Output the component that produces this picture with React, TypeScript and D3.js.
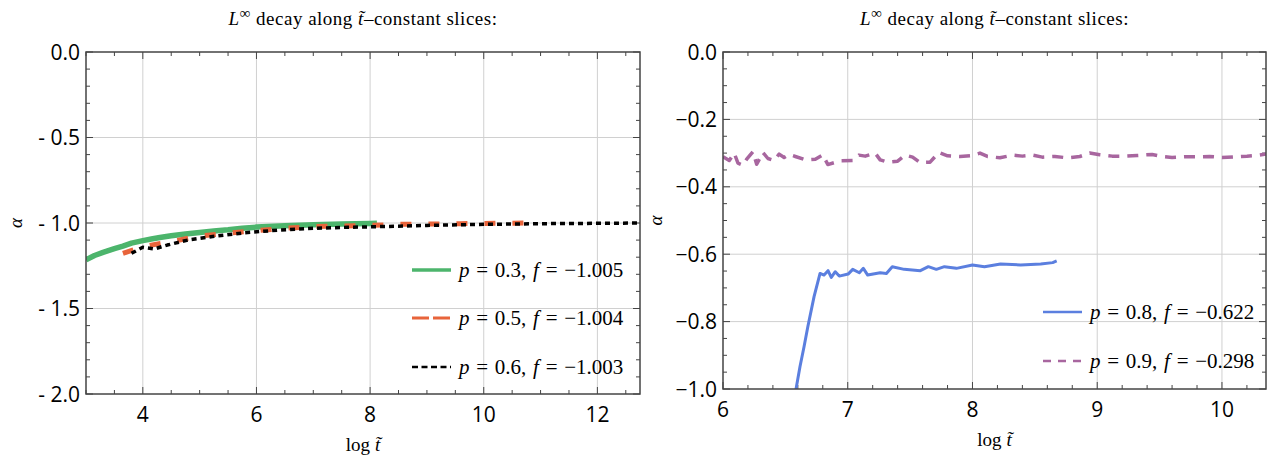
import React, { useEffect, useRef } from 'react';
import * as d3 from 'd3';

// left panel series (log t, alpha)
const greenX = [3.0, 3.15, 3.3, 3.5, 3.65, 3.8, 4.0, 4.15, 4.3, 4.5, 4.75, 5.0, 5.25, 5.5, 5.75, 6.0, 6.5, 7.0, 7.5, 8.0, 8.12];
const greenY = [-1.215, -1.19, -1.172, -1.15, -1.135, -1.118, -1.103, -1.094, -1.085, -1.075, -1.064, -1.055, -1.047, -1.04, -1.031, -1.024, -1.016, -1.01, -1.006, -1.003, -1.002];

const orangeX = [3.65, 4.0, 4.5, 5.0, 5.5, 6.0, 6.5, 7.0, 7.5, 8.0, 8.5, 9.0, 9.6, 10.2, 10.7];
const orangeY = [-1.177, -1.138, -1.109, -1.076, -1.06, -1.045, -1.031, -1.021, -1.018, -1.014, -1.008, -1.006, -1.004, -1.002, -1.0];

const blackX = [3.8, 4.0, 4.2, 4.43, 4.8, 5.2, 5.8, 6.4, 7.0, 7.6, 8.2, 9.0, 10.0, 11.0, 12.0, 12.75];
const blackY = [-1.177, -1.142, -1.152, -1.129, -1.099, -1.08, -1.057, -1.041, -1.031, -1.025, -1.021, -1.014, -1.008, -1.004, -1.002, -1.0];

// right panel series
const blueX = [6.553, 6.585, 6.617, 6.65, 6.68, 6.73, 6.778, 6.81, 6.842, 6.868, 6.9, 6.932, 7.003, 7.04, 7.093, 7.125, 7.16, 7.26, 7.31, 7.357, 7.453, 7.582, 7.646, 7.71, 7.775, 7.871, 8.0, 8.096, 8.225, 8.386, 8.547, 8.643, 8.675];
const blueY = [-1.052, -1.001, -0.934, -0.874, -0.815, -0.726, -0.657, -0.662, -0.649, -0.669, -0.652, -0.665, -0.659, -0.645, -0.655, -0.642, -0.662, -0.655, -0.657, -0.637, -0.645, -0.649, -0.637, -0.645, -0.637, -0.642, -0.632, -0.637, -0.629, -0.632, -0.629, -0.625, -0.62];

const purpleX = [6.0, 6.05, 6.09, 6.12, 6.16, 6.19, 6.24, 6.27, 6.32, 6.36, 6.41, 6.45, 6.49, 6.53, 6.58, 6.66, 6.74, 6.8, 6.84, 6.94, 7.04, 7.09, 7.14, 7.22, 7.26, 7.32, 7.4, 7.46, 7.52, 7.58, 7.66, 7.73, 7.8, 7.9, 8.0, 8.06, 8.12, 8.22, 8.32, 8.4, 8.48, 8.56, 8.66, 8.76, 8.86, 8.94, 9.02, 9.12, 9.22, 9.32, 9.44, 9.52, 9.6, 9.7, 9.8, 9.9, 10.0, 10.1, 10.2, 10.3, 10.37];
const purpleY = [-0.311, -0.322, -0.3, -0.33, -0.336, -0.318, -0.296, -0.333, -0.298, -0.316, -0.322, -0.303, -0.313, -0.304, -0.31, -0.32, -0.318, -0.305, -0.334, -0.323, -0.322, -0.306, -0.309, -0.3, -0.32, -0.327, -0.324, -0.306, -0.312, -0.328, -0.327, -0.298, -0.308, -0.31, -0.307, -0.3, -0.31, -0.314, -0.306, -0.309, -0.306, -0.312, -0.31, -0.314, -0.31, -0.3, -0.305, -0.309, -0.309, -0.307, -0.304, -0.31, -0.313, -0.311, -0.311, -0.31, -0.313, -0.311, -0.309, -0.306, -0.302];

const leftXTicks = [4, 6, 8, 10, 12];
const leftYTicks = [0, -0.5, -1, -1.5, -2];
const leftYLabels = ['0.0', '- 0.5', '- 1.0', '- 1.5', '- 2.0'];
const rightXTicks = [6, 7, 8, 9, 10];
const rightYTicks = [0, -0.2, -0.4, -0.6, -0.8, -1];
const rightYLabels = ['0.0', '\u22120.2', '\u22120.4', '\u22120.6', '\u22120.8', '\u22121.0'];

const leftLegend = [
  { p: '0.3', f: '\u22121.005', color: '#4cb56c', width: 3.5, dash: null, plotWidth: 5.5, plotDash: null },
  { p: '0.5', f: '\u22121.004', color: '#e8643b', width: 3, dash: '17,4', plotWidth: 5, plotDash: '11,17' },
  { p: '0.6', f: '\u22121.003', color: '#000000', width: 2.5, dash: '6,3.5', plotWidth: 3.5, plotDash: '5,4' },
];
const rightLegend = [
  { p: '0.8', f: '\u22120.622', color: '#5b7fdf', width: 2.5, dash: null, plotWidth: 3, plotDash: null },
  { p: '0.9', f: '\u22120.298', color: '#a8669f', width: 2.5, dash: '8,7', plotWidth: 3.5, plotDash: '11,8' },
];

const SERIF = '"Liberation Serif", "DejaVu Serif", serif';
const SANS = '"Open Sans", "Noto Sans", sans-serif';

function drawPanel(svg, cfg) {
  const { x0, x1, y0, y1, xDomain, yDomain, id } = cfg;
  const x = d3.scaleLinear().domain(xDomain).range([x0, x1]);
  const y = d3.scaleLinear().domain(yDomain).range([y1, y0]);
  const g = svg.append('g');

  g.append('clipPath').attr('id', id).append('rect')
    .attr('x', x0).attr('y', y0).attr('width', x1 - x0).attr('height', y1 - y0);

  // grid
  g.selectAll('.gx').data(cfg.xTicks.filter(v => x(v) > x0 + 1 && x(v) < x1 - 1)).enter().append('line')
    .attr('x1', d => x(d)).attr('x2', d => x(d)).attr('y1', y0).attr('y2', y1)
    .attr('stroke', '#d0d0d0').attr('stroke-width', 1);
  g.selectAll('.gy').data(cfg.yTicks.filter(v => y(v) > y0 + 1 && y(v) < y1 - 1)).enter().append('line')
    .attr('y1', d => y(d)).attr('y2', d => y(d)).attr('x1', x0).attr('x2', x1)
    .attr('stroke', '#d0d0d0').attr('stroke-width', 1);

  // ticks on all four sides
  const minorX = d3.range(xDomain[0], xDomain[1] + 1e-9, cfg.xMinor).filter(v => x(v) < x1 - 1);
  const minorY = d3.range(yDomain[0], yDomain[1] + 1e-9, cfg.yMinor);
  const tk = g.append('g').attr('stroke', '#444').attr('stroke-width', 1);
  minorX.forEach(v => {
    const major = cfg.xTicks.some(t => Math.abs(t - v) < 1e-6);
    const L = major ? 7 : 4;
    tk.append('line').attr('x1', x(v)).attr('x2', x(v)).attr('y1', y1).attr('y2', y1 - L);
    tk.append('line').attr('x1', x(v)).attr('x2', x(v)).attr('y1', y0).attr('y2', y0 + L);
  });
  minorY.forEach(v => {
    const major = cfg.yTicks.some(t => Math.abs(t - v) < 1e-6);
    const L = major ? 7 : 4;
    tk.append('line').attr('y1', y(v)).attr('y2', y(v)).attr('x1', x0).attr('x2', x0 + L);
    tk.append('line').attr('y1', y(v)).attr('y2', y(v)).attr('x1', x1).attr('x2', x1 - L);
  });

  // series
  const line = d3.line().x(d => x(d[0])).y(d => y(d[1]));
  const sg = g.append('g').attr('clip-path', `url(#${id})`);
  cfg.series.forEach(s => {
    sg.append('path')
      .attr('d', line(d3.zip(s.xs, s.ys)))
      .attr('fill', 'none')
      .attr('stroke', s.leg.color)
      .attr('stroke-width', s.leg.plotWidth)
      .attr('stroke-dasharray', s.leg.plotDash)
      .attr('stroke-linejoin', 'round');
  });

  // frame
  g.append('rect').attr('x', x0).attr('y', y0).attr('width', x1 - x0).attr('height', y1 - y0)
    .attr('fill', 'none').attr('stroke', '#444').attr('stroke-width', 1.5);

  // tick labels
  g.selectAll('.xl').data(cfg.xTicks).enter().append('text')
    .attr('x', d => x(d)).attr('y', y1 + 28)
    .attr('text-anchor', 'middle').style('font-family', SANS).style('font-size', '21px').attr('fill', '#000')
    .text(d => String(d));
  g.selectAll('.yl').data(cfg.yTicks).enter().append('text')
    .attr('x', x0 - 6).attr('y', d => y(d)).attr('dy', '0.36em')
    .attr('text-anchor', 'end').style('font-family', SANS).style('font-size', '21px').attr('fill', '#000')
    .text((d, i) => cfg.yLabels[i]);

  // title
  const cx = (x0 + x1) / 2;
  const title = g.append('text').attr('x', cx).attr('y', 25).attr('text-anchor', 'middle')
    .style('font-family', SERIF).style('font-size', '19px').style('letter-spacing', '0.5px');
  title.append('tspan').style('font-style', 'italic').text('L');
  title.append('tspan').attr('dy', -7).style('font-size', '15px').text('\u221e');
  title.append('tspan').attr('dy', 7).text(' decay along ');
  title.append('tspan').style('font-style', 'italic').text('t\u0303');
  title.append('tspan').text('\u2013constant slices:');

  // axis labels
  const xl = g.append('text').attr('x', cx).attr('y', y1 + 57).attr('text-anchor', 'middle')
    .style('font-family', SERIF).style('font-size', '19px');
  xl.append('tspan').text('log ');
  xl.append('tspan').style('font-style', 'italic').text('t\u0303');
  g.append('text').attr('transform', `translate(${cfg.alphaX},${(y0 + y1) / 2}) rotate(-90)`)
    .attr('text-anchor', 'middle').attr('dy', '0.3em')
    .style('font-family', SERIF).style('font-size', '19px').style('font-style', 'italic')
    .text('\u03b1');

  // legend
  cfg.legend.forEach((l, i) => {
    const ly = cfg.legY[i];
    g.append('line').attr('x1', cfg.legX).attr('x2', cfg.legX + 39).attr('y1', ly).attr('y2', ly)
      .attr('stroke', l.color).attr('stroke-width', l.width).attr('stroke-dasharray', l.dash);
    const t = g.append('text').attr('x', cfg.legX + 47).attr('y', ly + 7)
      .style('font-family', SERIF).style('font-size', '21px').style('word-spacing', '1.5px');
    t.append('tspan').style('font-style', 'italic').text('p');
    t.append('tspan').text(` = ${l.p}, `);
    t.append('tspan').style('font-style', 'italic').text('f');
    t.append('tspan').text(` = ${l.f}`);
  });
}

export default function App() {
  const svgRef = useRef(null);

  useEffect(() => {
    const svg = d3.select(svgRef.current);
    svg.selectAll('*').remove();

    drawPanel(svg, {
      id: 'clipL', x0: 86, x1: 640, y0: 52, y1: 394,
      xDomain: [3, 12.75], yDomain: [-2, 0],
      xTicks: leftXTicks, yTicks: leftYTicks, yLabels: leftYLabels,
      xMinor: 0.5, yMinor: 0.1, alphaX: 16,
      series: [
        { xs: greenX, ys: greenY, leg: leftLegend[0] },
        { xs: orangeX, ys: orangeY, leg: leftLegend[1] },
        { xs: blackX, ys: blackY, leg: leftLegend[2] },
      ],
      legend: leftLegend, legX: 412, legY: [270, 318, 367],
    });

    drawPanel(svg, {
      id: 'clipR', x0: 723, x1: 1266, y0: 52, y1: 389,
      xDomain: [6, 10.353], yDomain: [-1, 0],
      xTicks: rightXTicks, yTicks: rightYTicks, yLabels: rightYLabels,
      xMinor: 0.2, yMinor: 0.05, alphaX: 656,
      series: [
        { xs: blueX, ys: blueY, leg: rightLegend[0] },
        { xs: purpleX, ys: purpleY, leg: rightLegend[1] },
      ],
      legend: rightLegend, legX: 1043, legY: [312, 361],
    });
  }, []);

  return (
    <svg ref={svgRef} width={1268} height={459}
      style={{ position: 'absolute', left: 0, top: 0, background: '#fff' }} />
  );
}
